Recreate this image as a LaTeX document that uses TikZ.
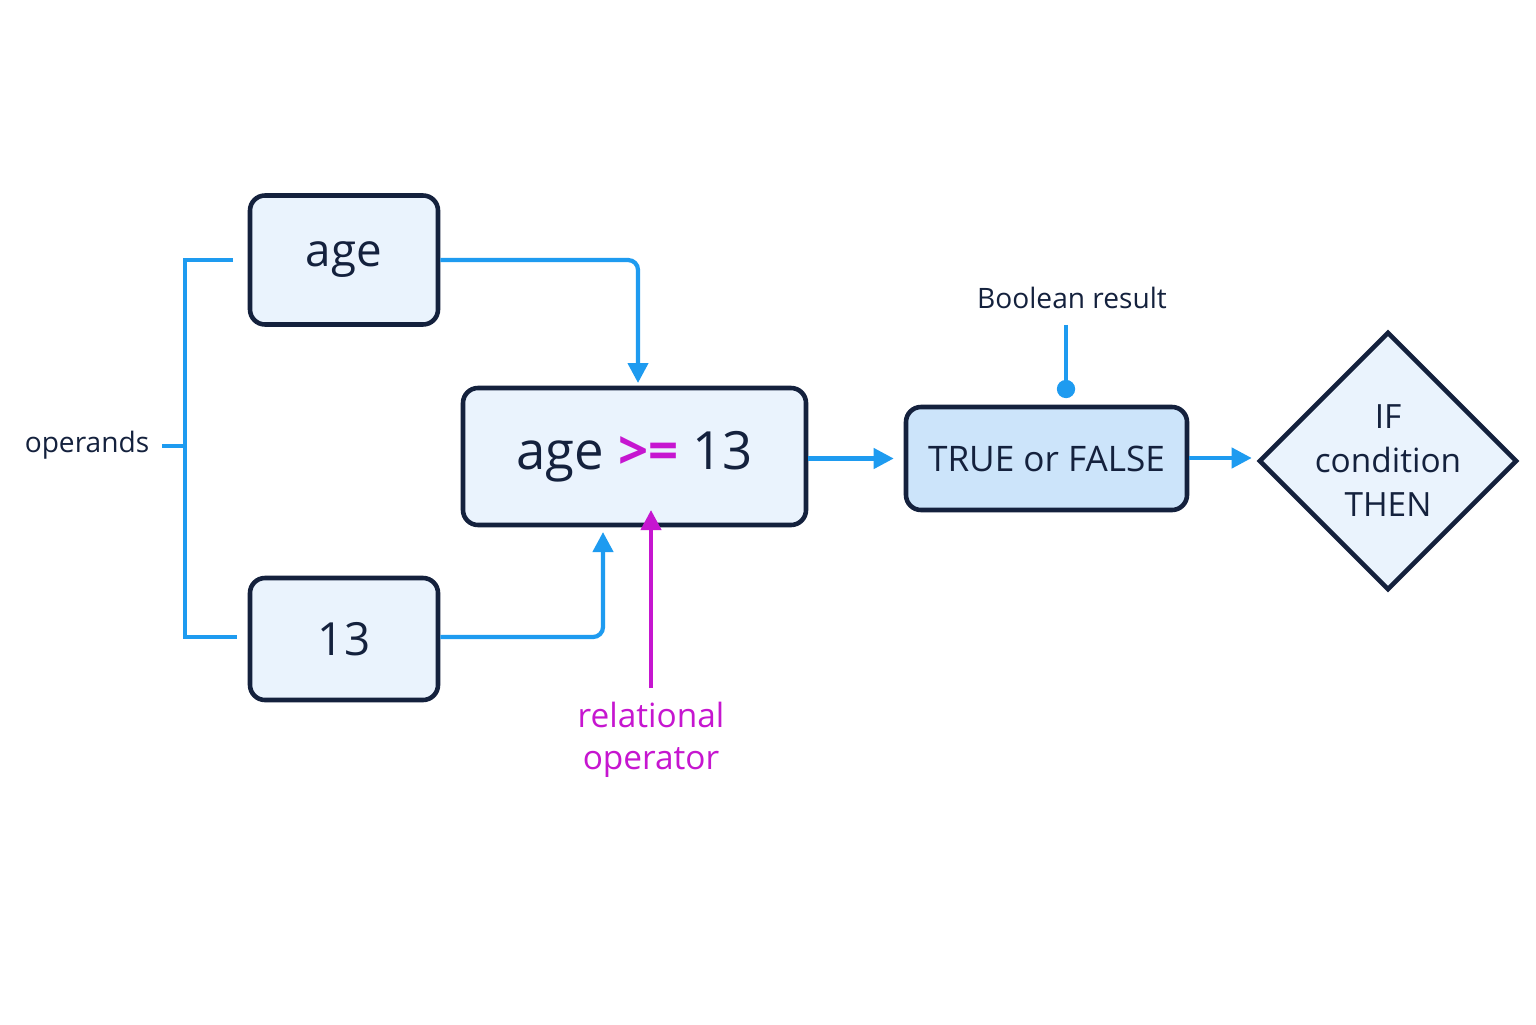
\documentclass[tikz,border=0pt]{standalone}
\usepackage{fontspec}
\setmainfont{Open Sans}
\usetikzlibrary{shapes.geometric,arrows.meta,positioning}
\definecolor{ink}{HTML}{14213D}
\definecolor{boxfill}{HTML}{EAF3FD}
\definecolor{resfill}{HTML}{CCE4FA}
\definecolor{wire}{HTML}{1E9BF0}
\definecolor{opcol}{HTML}{C616D0}
\tikzset{box/.style={draw=ink,line width=1.3pt,rounded corners=0.15cm,fill=boxfill,text=ink},
  wire/.style={draw=wire,line width=1.2pt},
  arr/.style={wire,-{Triangle[length=0.2cm,width=0.2cm]},rounded corners=0.1cm}}
\begin{document}
\begin{tikzpicture}[x=1cm,y=1cm]
    \useasboundingbox[fill=white] (0,0) rectangle (15.36,10.24);
    \node[box,minimum width=1.88cm,minimum height=1.29cm,font=\fontsize{13}{15}\selectfont] (age) at (3.44,7.64) {age};
    \node[box,minimum width=1.88cm,minimum height=1.22cm,font=\fontsize{13}{15}\selectfont] (num) at (3.44,3.85) {13};
    \node[box,minimum width=3.43cm,minimum height=1.37cm,font=\fontsize{15}{17}\selectfont] (expr) at (6.345,5.675) {age \textcolor{opcol}{\textbf{>=}} 13};
    \node[box,fill=resfill,minimum width=2.81cm,minimum height=1.03cm,font=\fontsize{10}{12}\selectfont] (res) at (10.465,5.655) {TRUE or FALSE};
    \node[diamond,draw=ink,line width=1.3pt,fill=boxfill,text=ink,minimum width=2.38cm,minimum height=2.34cm,inner sep=0pt,align=center,font=\fontsize{9.5}{12.5}\selectfont] (cond) at (13.88,5.63) {IF\\condition\\THEN};
    \node[text=ink,font=\fontsize{8}{10}\selectfont] (bool) at (10.72,7.26) {Boolean result};
    \node[text=ink,font=\fontsize{8}{10}\selectfont] (opnd) at (0.87,5.79) {operands};
    \node[text=opcol,align=center,font=\fontsize{9.5}{11.8}\selectfont] (rel) at (6.51,2.84) {relational\\operator};

    % operand bracket
    \coordinate (bt) at (1.85,7.64);
    \coordinate (bb) at (1.85,3.87);
    \draw[wire] (2.33,7.64) -- (bt) -- (bb) -- (2.37,3.87);
    \draw[wire] (1.62,5.78) -- (1.85,5.78);

    \draw[arr] (age.east) -| (6.38,6.41);
    \draw[arr] (num.east |- 0,3.87) -| (6.03,4.92);
    \draw[opcol,line width=1.2pt,-{Triangle[length=0.2cm,width=0.2cm]}] (6.51,3.36) -- (6.51,5.14);
    \draw[arr] (expr.east |- res) -- ([xshift=-0.1cm]res.west);
    \draw[arr] (res.east |- 0,5.66) -- ([xshift=-0.05cm]cond.west |- 0,5.66);
    \coordinate (dot) at (10.66,6.35);
    \draw[wire] (10.66,6.99) -- (dot);
    \fill[wire,fill=wire] (dot) circle (0.07);
\end{tikzpicture}
\end{document}
